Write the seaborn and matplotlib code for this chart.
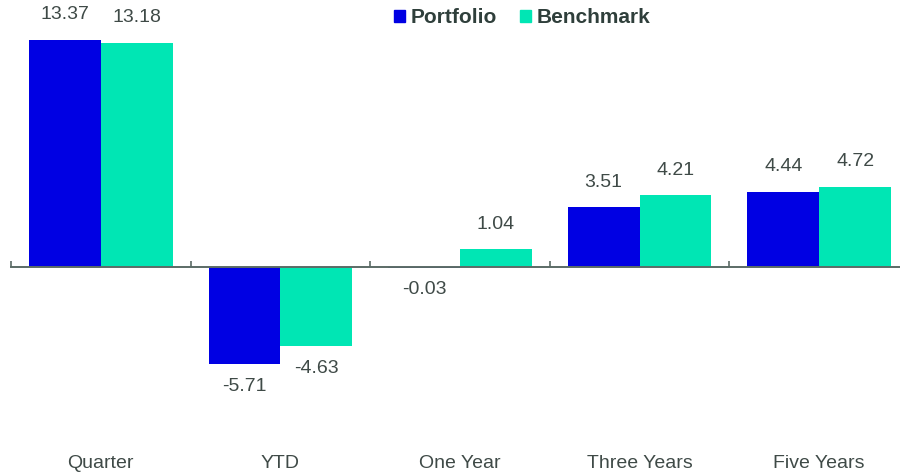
import numpy as np
import pandas as pd
import matplotlib
matplotlib.use("Agg")
import matplotlib.pyplot as plt
import seaborn as sns

# data
periods = ["Quarter", "YTD", "One Year", "Three Years", "Five Years"]
portfolio = [13.37, -5.71, -0.03, 3.51, 4.44]
benchmark = [13.18, -4.63, 1.04, 4.21, 4.72]
series_names = ["Portfolio", "Benchmark"]
colors = {"Portfolio": "#0000E3", "Benchmark": "#00E6B4"}

df = pd.DataFrame({
    "Period": periods * 2,
    "Series": ["Portfolio"] * len(periods) + ["Benchmark"] * len(periods),
    "Return": portfolio + benchmark,
})

sns.set_theme(style="white")
plt.rcParams['font.family'] = ['Liberation Sans', 'DejaVu Sans']

text_col = "#3f4a47"
axis_col = "#5b6b66"

fig = plt.figure(figsize=(9, 4.72), dpi=100)
ax = fig.add_axes([11 / 900, 52 / 472, 898 / 900, 391 / 472])

sns.barplot(data=df, x="Period", y="Return", hue="Series", order=periods,
            hue_order=series_names, palette=colors, width=0.8,
            linewidth=0, saturation=1, ax=ax, legend=False)

# positive labels sit a bit higher than negative ones
for cont in ax.containers:
    vals = cont.datavalues
    pos = ["%.2f" % v if v >= 0 else "" for v in vals]
    neg = ["%.2f" % v if v < 0 else "" for v in vals]
    ax.bar_label(cont, labels=pos, padding=12, fontsize=14, color=text_col)
    ax.bar_label(cont, labels=neg, padding=10, fontsize=14, color=text_col)

ax.set_ylim(-9, 14)
ax.set_xlim(-0.5, len(periods) - 0.5)
ax.set_xlabel("")
ax.set_ylabel("")
ax.set_yticks([])

for s in ["top", "right", "left"]:
    ax.spines[s].set_visible(False)
ax.spines["bottom"].set_position(("data", 0))
ax.spines["bottom"].set_color(axis_col)
ax.spines["bottom"].set_linewidth(1.4)

ax.set_xticks(np.arange(len(periods)))
ax.set_xticklabels(periods)
ax.set_xticks(np.arange(len(periods) + 1) - 0.5, minor=True)
ax.tick_params(axis="x", which="major", length=0, pad=135, labelsize=14, labelcolor=text_col)
ax.tick_params(axis="x", which="minor", bottom=True, direction="in", length=4.5, width=1.2, color=axis_col)

handles = [plt.Rectangle((0, 0), 1, 1, color=colors[s]) for s in series_names]
leg = fig.legend(handles, series_names, loc="upper center", bbox_to_anchor=(522 / 900, 1.022),
                 ncol=2, frameon=False, handlelength=0.55, handleheight=0.55,
                 handletextpad=0.25, columnspacing=1.1,
                 prop={"weight": "bold", "size": 15})
for t in leg.get_texts():
    t.set_color("#2f3f3b")

fig.savefig("out.png", dpi=100)
